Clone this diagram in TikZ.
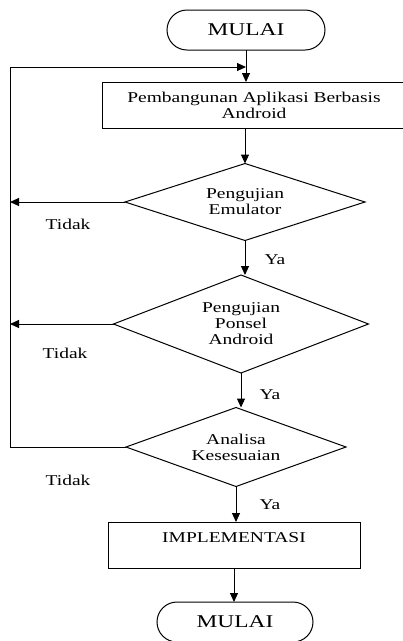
\documentclass[tikz,border=0pt]{standalone}
\usepackage{fontspec}
\setmainfont[FakeStretch=1.3]{Liberation Serif}
\usetikzlibrary{shapes.geometric,shapes.misc,arrows.meta}

\begin{document}
\begin{tikzpicture}[x=1pt, y=-1pt,
	garis/.style={line width=1pt},
	panah/.style={garis, -{Triangle[length=9pt,width=8pt]}},
	terminal/.style={draw, garis, rounded rectangle, minimum width=158pt, minimum height=40pt, inner sep=0pt, outer sep=0pt, font=\fontsize{18}{18}\selectfont},
	proses/.style={draw, garis, rectangle, minimum height=46pt, inner sep=0pt, outer sep=0pt, align=center, font=\fontsize{15}{16}\selectfont},
	keputusan/.style={draw, garis, diamond, aspect=2.8, inner sep=0pt, outer sep=0pt, align=center, font=\fontsize{15}{16}\selectfont},
	ket/.style={font=\fontsize{15}{15}\selectfont}]
	\useasboundingbox (0,0) rectangle (403,641);

	\node [terminal] (mulai) at (246,30) {MULAI};
	\node [proses, minimum width=304pt] (bangun) at (254,105) {Pembangunan Aplikasi Berbasis\\Android};
	\node [keputusan, minimum width=240pt, minimum height=77pt] (emulator) at (245,202) {Pengujian\\Emulator};
	\node [keputusan, minimum width=255pt, minimum height=98pt] (ponsel) at (241,324) {Pengujian\\Ponsel\\Android};
	\node [keputusan, minimum width=220pt, minimum height=79pt] (analisa) at (236,447) {Analisa\\Kesesuaian};
	\node [proses, minimum width=252pt, text height=10.5pt, text depth=16pt] (implementasi) at (234,545) {IMPLEMENTASI};
	\node [terminal, minimum width=156pt] (selesai) at (235,622) {MULAI};

	\coordinate (kiri) at (10,67);

	\node [ket] (tidak1) at (68,224) {Tidak};
	\node [ket] (tidak2) at (65,353) {Tidak};
	\node [ket] (tidak3) at (68,480) {Tidak};
	\node [ket] (ya1) at (275,260) {Ya};
	\node [ket] (ya2) at (270,395) {Ya};
	\node [ket] (ya3) at (270,505) {Ya};

	\draw [panah] (mulai.south) -- (mulai.south |- bangun.north);
	\draw [panah] (bangun.south -| emulator.north) -- (emulator.north);
	\draw [panah] (emulator.south) -- (emulator.south |- ponsel.north);
	\draw [panah] (ponsel.south) -- (ponsel.south |- analisa.north);
	\draw [panah] (analisa.south) -- (analisa.south |- implementasi.north);
	\draw [panah] (implementasi.south) -- (implementasi.south |- selesai.north);

	\draw [panah] (emulator.west) -- (emulator.west -| kiri);
	\draw [panah] (ponsel.west) -- (ponsel.west -| kiri);
	\draw [panah] (analisa.west) -| (kiri) -- (kiri -| mulai.south);
\end{tikzpicture}
\end{document}
